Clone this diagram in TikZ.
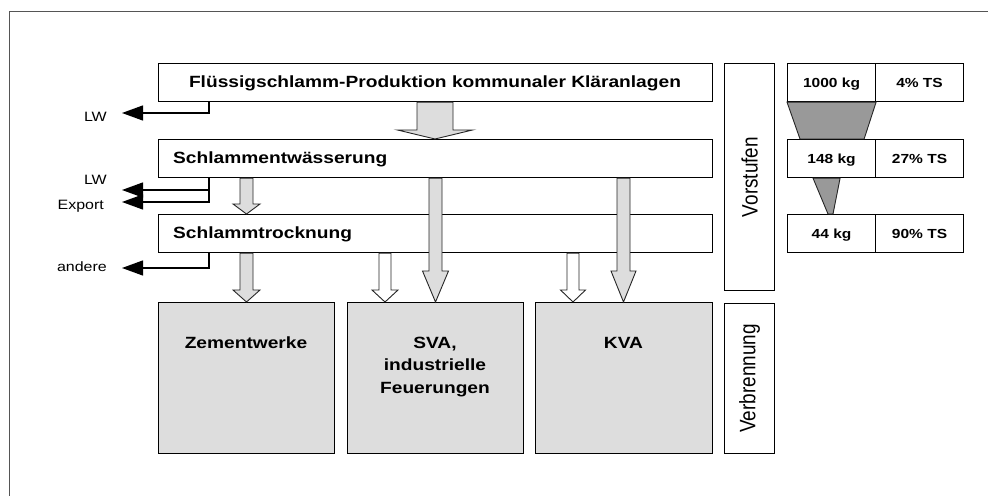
\documentclass[tikz,border=0pt]{standalone}
\usepackage{fontspec}
\setmainfont{Liberation Sans}
\usepackage{graphicx}
\usetikzlibrary{arrows.meta,calc}
\definecolor{boxgray}{HTML}{DDDDDD}
\definecolor{funnelgray}{HTML}{999999}
\definecolor{framegray}{HTML}{555555}
\newcommand\wx[1]{\scalebox{1.18}[1]{#1}}
\newcommand\wy[1]{\scalebox{1}[1.18]{#1}}
% block arrow: fill, x, from, to, shaft half width, head half width, head length
\newcommand\blkarrow[7]{%
  \draw[blockarrow,fill=#1] let \p1=(#3), \p2=(#4), \p3=(#2,0) in
    ({\x3-#5bp},\y1) -- ({\x3+#5bp},\y1) -- ({\x3+#5bp},{\y2+#7bp})
    -- ({\x3+#6bp},{\y2+#7bp}) -- (\x3,\y2) -- ({\x3-#6bp},{\y2+#7bp})
    -- ({\x3-#5bp},{\y2+#7bp}) -- cycle;}
\tikzset{
  box/.style={draw, line width=1.1bp, rectangle, inner sep=0pt, anchor=north west},
  graybox/.style={box, fill=boxgray},
  blockarrow/.style={draw=black!85, line width=0.9bp, line join=miter},
  outarrow/.style={line width=1.3bp, -{Triangle[length=21bp,width=15bp]}},
  bigtxt/.style={font=\fontsize{16.3}{22}\selectfont\bfseries, inner sep=0pt, align=center},
  tabtxt/.style={font=\fontsize{13.2}{16}\selectfont\bfseries, inner sep=0pt},
  sidetxt/.style={font=\fontsize{13.6}{16}\selectfont, inner sep=0pt, anchor=base east},
  rottxt/.style={font=\fontsize{19}{22}\selectfont, inner sep=0pt, rotate=90},
  funnel/.style={draw=black!85, line width=0.9bp, fill=funnelgray}
}
\begin{document}
\begin{tikzpicture}[x=1bp,y=-1bp]
\useasboundingbox (0,0) rectangle (988,496);
% outer frame (only top and left edges visible)
\coordinate (fbl) at (9,496);
\coordinate (ftl) at (9,12);
\coordinate (ftr) at (988,12);
\draw[framegray, line width=1bp] (fbl) -- (ftl) -- (ftr);

% process boxes
\node[box, minimum width=554bp, minimum height=38bp] (b1) at (158,63) {};
\node[box, minimum width=554bp, minimum height=38bp] (b2) at (158,139) {};
\node[box, minimum width=554bp, minimum height=38bp] (b3) at (158,214) {};
\node[bigtxt, anchor=base] (b1t) at (435,88) {\wx{Flüssigschlamm-Produktion kommunaler Kläranlagen}};
\node[bigtxt, anchor=base west] (b2t) at (173,164) {\wx{Schlammentwässerung}};
\node[bigtxt, anchor=base west] (b3t) at (173,239) {\wx{Schlammtrocknung}};

% combustion boxes
\node[graybox, minimum width=176bp, minimum height=151bp] (zem) at (158,302) {};
\node[graybox, minimum width=176bp, minimum height=151bp] (sva) at (347,302) {};
\node[graybox, minimum width=177bp, minimum height=151bp] (kva) at (535,302) {};
\node[bigtxt, anchor=base] (zemt) at (246,349) {\wx{Zementwerke}};
\node[bigtxt, anchor=base] (svat1) at (435,349) {\wx{SVA,}};
\node[bigtxt, anchor=base] (svat2) at (435,371) {\wx{industrielle}};
\node[bigtxt, anchor=base] (svat3) at (435,393) {\wx{Feuerungen}};
\node[bigtxt, anchor=base] (kvat) at (623.5,349) {\wx{KVA}};

% stage labels
\node[box, minimum width=50bp, minimum height=227bp] (vor) at (724,63) {};
\node[box, minimum width=50bp, minimum height=150bp] (ver) at (724,303) {};
\node[rottxt] (vort) at (vor.center) {\wy{Vorstufen}};
\node[rottxt] (vert) at (ver.center) {\wy{Verbrennung}};

% table
\node[box, minimum width=88bp, minimum height=38bp] (t1a) at (787,63) {};
\node[box, minimum width=88bp, minimum height=38bp] (t1b) at (875,63) {};
\node[box, minimum width=88bp, minimum height=38bp] (t2a) at (787,139) {};
\node[box, minimum width=88bp, minimum height=38bp] (t2b) at (875,139) {};
\node[box, minimum width=88bp, minimum height=38bp] (t3a) at (787,214) {};
\node[box, minimum width=88bp, minimum height=38bp] (t3b) at (875,214) {};
\node[tabtxt, anchor=base] (t1at) at ([yshift=-5bp]t1a.center) {\wx{1000 kg}};
\node[tabtxt, anchor=base] (t1bt) at ([yshift=-5bp]t1b.center) {\wx{4\% TS}};
\node[tabtxt, anchor=base] (t2at) at ([yshift=-5bp]t2a.center) {\wx{148 kg}};
\node[tabtxt, anchor=base] (t2bt) at ([yshift=-5bp]t2b.center) {\wx{27\% TS}};
\node[tabtxt, anchor=base] (t3at) at ([yshift=-5bp]t3a.center) {\wx{44 kg}};
\node[tabtxt, anchor=base] (t3bt) at ([yshift=-5bp]t3b.center) {\wx{90\% TS}};
\draw[funnel] (t1a.south west) -- (t1a.south east) -- ([xshift=-12bp]t2a.north east) -- ([xshift=13bp]t2a.north west) -- cycle;
\draw[funnel] ([xshift=26bp]t2a.south west) -- ([xshift=-36bp]t2a.south east) -- ([xshift=46bp]t3a.north west) -- ([xshift=41bp]t3a.north west) -- cycle;

% side outputs
\coordinate (lw1tip) at (122,113);
\coordinate (lw2tip) at (122,190);
\coordinate (exptip) at (122,202);
\coordinate (andtip) at (122,268);
\draw[outarrow] ([xshift=51bp]b1.south west) |- (lw1tip);
\draw[outarrow] ([xshift=51bp]b2.south west) |- (lw2tip);
\draw[outarrow] ([xshift=51bp]b2.south west) |- (exptip);
\draw[outarrow] ([xshift=51bp]b3.south west) |- (andtip);
\node[sidetxt] (lw1) at (107,122) {\wx{LW}};
\node[sidetxt] (lw2) at (107,185) {\wx{LW}};
\node[sidetxt] (exp) at (104,210) {\wx{Export}};
\node[sidetxt] (and) at (107,272) {\wx{andere}};

% block arrows
\blkarrow{boxgray}{435}{b1.south}{b2.north}{18}{37.5}{9}
\blkarrow{boxgray}{246.5}{b2.south}{b3.north}{6.5}{13.5}{10}
\blkarrow{boxgray}{246.5}{b3.south}{zem.north}{6.5}{13.5}{12}
\blkarrow{white}{385}{b3.south}{sva.north}{6}{13}{12}
\blkarrow{boxgray}{435.5}{b2.south}{sva.north}{6.5}{13}{31}
\blkarrow{white}{573}{b3.south}{kva.north}{6}{12.5}{12}
\blkarrow{boxgray}{623.5}{b2.south}{kva.north}{6.5}{12.5}{31}
\end{tikzpicture}
\end{document}
